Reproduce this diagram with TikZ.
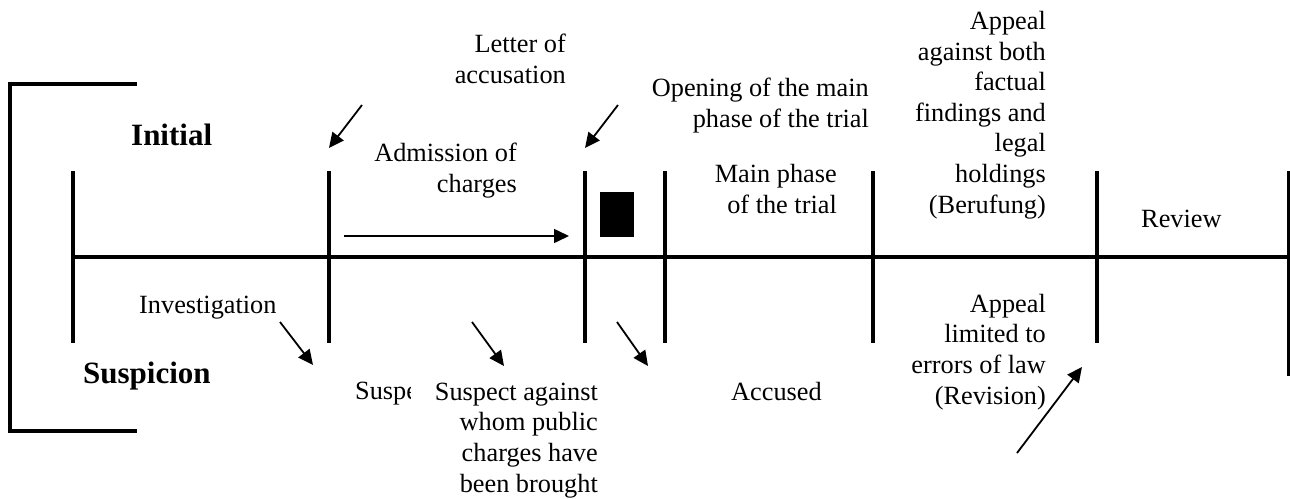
\documentclass[tikz,border=0pt]{standalone}
\usepackage{fontspec}
\setmainfont{Liberation Serif}
\usetikzlibrary{arrows.meta}
\begin{document}
\begin{tikzpicture}[x=1pt,y=-1pt,
  heavy/.style={line width=3.6pt},
  pointer/.style={line width=1.8pt,-{Triangle[length=15pt,width=14pt]}},
  lbl/.style={inner sep=0pt,font=\fontsize{26.3}{30.6}\selectfont},
  llbl/.style={lbl,anchor=base west},
  rlbl/.style={lbl,align=right,anchor=base east},
  stage/.style={inner sep=0pt,font=\fontsize{31}{36}\selectfont\bfseries,anchor=base west},
]
\useasboundingbox (0,0) rectangle (1290,498);
% bracket
\coordinate (brA) at (137,84);
\coordinate (brB) at (10,84);
\coordinate (brC) at (10,431);
\coordinate (brD) at (137,431);
\draw[heavy] (brA) -- (brB) -- (brC) -- (brD);
% time axis
\coordinate (axL) at (73,257);
\coordinate (axR) at (1290,257);
\draw[heavy] (axL) -- (axR);
% ticks
\foreach \n/\x/\b in {1/73/343,2/329/343,3/585/343,4/665/343,5/873/343,6/1097/343,7/1288.5/376}{
  \coordinate (t\n top) at (\x,171);
  \coordinate (t\n bot) at (\x,\b);
  \draw[heavy] (t\n top) -- (t\n bot);
}
% black block
\node[fill=black,inner sep=0pt,minimum width=34pt,minimum height=45pt] (block) at (617,214.5) {};
% arrows
\coordinate (a1s) at (362,105); \coordinate (a1e) at (329,148);
\coordinate (a2s) at (618,105); \coordinate (a2e) at (585,148);
\coordinate (a3s) at (280,322); \coordinate (a3e) at (313,365);
\coordinate (a4s) at (472,322); \coordinate (a4e) at (504,366);
\coordinate (a5s) at (617,322); \coordinate (a5e) at (648,366);
\coordinate (a6s) at (1017,453); \coordinate (a6e) at (1082,367);
\coordinate (ads) at (344,236); \coordinate (ade) at (569,236);
\draw[pointer] (a1s) -- (a1e);
\draw[pointer] (a2s) -- (a2e);
\draw[pointer] (a3s) -- (a3e);
\draw[pointer] (a4s) -- (a4e);
\draw[pointer] (a5s) -- (a5e);
\draw[pointer] (a6s) -- (a6e);
\draw[pointer,line width=1.6pt] (ads) -- (ade);
% labels (multi-line nodes: base anchor = baseline of last line)
\node[stage] (initial) at (131,145) {Initial};
\node[stage] (suspicion) at (83,383) {Suspicion};
\node[rlbl] (letter) at (566,83) {Letter of\\accusation};
\node[rlbl] (opening) at (869,127) {Opening of the main\\phase of the trial};
\node[rlbl] (admission) at (517,192) {Admission of\\charges};
\node[rlbl] (mainphase) at (837,213) {Main phase\\of the trial};
\node[rlbl] (berufung) at (1046,213) {Appeal\\against both\\factual\\findings and\\legal\\holdings\\(Berufung)};
\node[llbl] (review) at (1141,227) {Review};
\node[rlbl] (revision) at (1046,404) {Appeal\\limited to\\errors of law\\(Revision)};
\node[llbl] (investigation) at (139,313) {Investigation};
\begin{scope}
  \clip (0,0) rectangle (410,498);
  \node[llbl] (suspect) at (355,399) {Suspect};
\end{scope}
\node[rlbl] (charged) at (598,492) {Suspect against\\whom public\\charges have\\been brought};
\node[llbl] (accused) at (731,400) {Accused};
\end{tikzpicture}
\end{document}
